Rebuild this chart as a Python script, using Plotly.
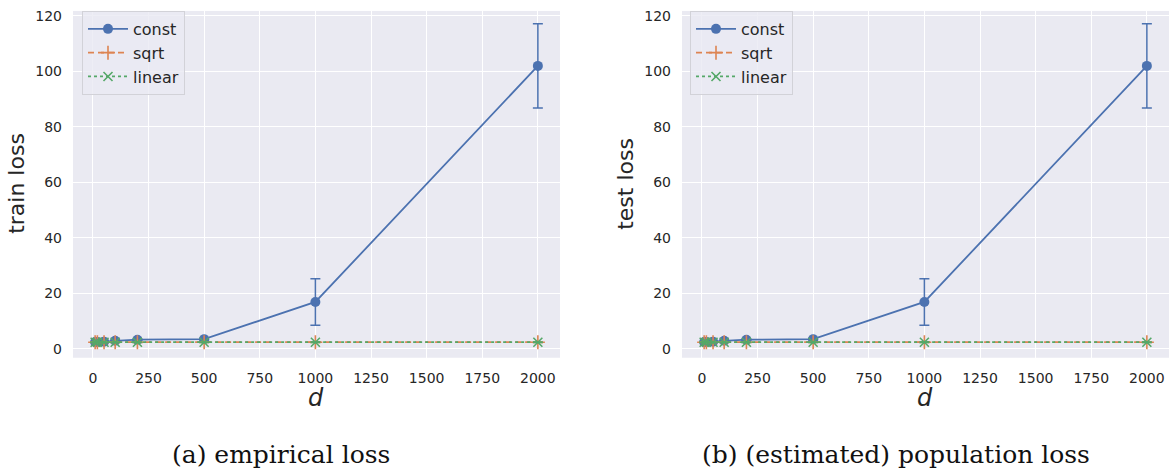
import plotly.graph_objects as go

d_values = [10, 20, 50, 100, 200, 500, 1000, 2000]

train_const = [2.5, 2.5, 2.6, 2.9, 3.3, 3.5, 16.9, 102.0]
train_const_err = [0.1, 0.1, 0.1, 0.2, 0.2, 0.3, 8.4, 15.2]
train_sqrt = [2.4, 2.4, 2.4, 2.4, 2.4, 2.4, 2.4, 2.4]
train_sqrt_err = [0.1, 0.1, 0.1, 0.1, 0.1, 0.1, 0.1, 0.1]
train_linear = [2.4, 2.4, 2.4, 2.4, 2.4, 2.4, 2.4, 2.4]
train_linear_err = [0.1, 0.1, 0.1, 0.1, 0.1, 0.1, 0.1, 0.1]

test_const = [2.5, 2.5, 2.6, 2.9, 3.3, 3.5, 16.9, 102.0]
test_const_err = [0.1, 0.1, 0.1, 0.2, 0.2, 0.3, 8.4, 15.2]
test_sqrt = [2.4, 2.4, 2.4, 2.4, 2.4, 2.4, 2.4, 2.4]
test_sqrt_err = [0.1, 0.1, 0.1, 0.1, 0.1, 0.1, 0.1, 0.1]
test_linear = [2.4, 2.4, 2.4, 2.4, 2.4, 2.4, 2.4, 2.4]
test_linear_err = [0.1, 0.1, 0.1, 0.1, 0.1, 0.1, 0.1, 0.1]

series_names = ["const", "sqrt", "linear"]
x_ticks = [0, 250, 500, 750, 1000, 1250, 1500, 1750, 2000]
y_ticks = [0, 20, 40, 60, 80, 100, 120]
y_titles = ["train loss", "test loss"]
captions = ["(a) empirical loss", "(b) (estimated) population loss"]

BLUE = "#4C72B0"
ORANGE = "#DD8452"
GREEN = "#55A868"
W, H = 1169, 472

fig = go.Figure()

styles = [
    dict(color=BLUE, dash="solid", symbol="circle", size=10, mline=0),
    dict(color=ORANGE, dash="6px,4px", symbol="cross-thin", size=10, mline=1.6),
    dict(color=GREEN, dash="dot", symbol="x-thin", size=9, mline=1.6),
]

panels = [
    ([train_const, train_sqrt, train_linear],
     [train_const_err, train_sqrt_err, train_linear_err], "x", "y", "legend"),
    ([test_const, test_sqrt, test_linear],
     [test_const_err, test_sqrt_err, test_linear_err], "x2", "y2", "legend2"),
]

for ys, errs, xa, ya, leg in panels:
    for name, yv, ev, st in zip(series_names, ys, errs, styles):
        fig.add_trace(go.Scatter(
            x=d_values, y=yv, name=name, mode="lines+markers",
            xaxis=xa, yaxis=ya, legend=leg,
            line=dict(color=st["color"], dash=st["dash"], width=1.8),
            marker=dict(symbol=st["symbol"], size=st["size"], color=st["color"],
                        line=dict(width=st["mline"], color=st["color"])),
            error_y=dict(type="data", array=ev, visible=True, color=st["color"],
                         thickness=1.5, width=5),
        ))

tick_font = dict(family="DejaVu Sans", size=14, color="#262626")
y0, y1 = 1 - 357 / H, 1 - 8 / H

axis_common = dict(
    range=[-89.5, 2099.5], tickvals=x_ticks, showgrid=True, gridcolor="white",
    gridwidth=1.2, zeroline=False, showline=False, ticks="", tickfont=tick_font,
    ticklabelstandoff=10,
)
yaxis_common = dict(
    range=[-3.2, 121.8], tickvals=y_ticks, showgrid=True, gridcolor="white",
    gridwidth=1.2, zeroline=False, showline=False, ticks="", tickfont=tick_font,
    ticklabelstandoff=10, domain=[y0, y1],
)

legend_common = dict(
    bgcolor="rgba(234,234,242,0.8)", bordercolor="#d2d2d8", borderwidth=1,
    font=dict(family="DejaVu Sans", size=16, color="#262626"),
    xanchor="left", yanchor="top", itemwidth=40, tracegroupgap=0,
)

fig.update_layout(
    width=W, height=H, margin=dict(l=0, r=0, t=0, b=0),
    paper_bgcolor="white", plot_bgcolor="#EAEAF2",
    xaxis=dict(domain=[73 / W, 560 / W], anchor="y", **axis_common),
    xaxis2=dict(domain=[682 / W, 1169 / W], anchor="y2", **axis_common),
    yaxis=dict(anchor="x", **yaxis_common),
    yaxis2=dict(anchor="x2", **yaxis_common),
    legend=dict(x=82 / W, y=1 - 8 / H, **legend_common),
    legend2=dict(x=690 / W, y=1 - 8 / H, **legend_common),
    showlegend=True,
)

annotations = []
for cx, txt in zip([17, 626], y_titles):
    annotations.append(dict(
        x=cx / W, y=1 - 182 / H, xref="paper", yref="paper", text=txt,
        showarrow=False, textangle=-90, xanchor="center", yanchor="middle",
        font=dict(family="DejaVu Sans", size=22, color="#262626")))
for cx in [316, 925]:
    annotations.append(dict(
        x=cx / W, y=1 - 398 / H, xref="paper", yref="paper", text="<i>d</i>",
        showarrow=False, xanchor="center", yanchor="middle",
        font=dict(family="DejaVu Sans", size=24, color="#262626")))
for cx, txt in zip([281, 896], captions):
    annotations.append(dict(
        x=cx / W, y=1 - 454 / H, xref="paper", yref="paper", text=txt,
        showarrow=False, xanchor="center", yanchor="middle",
        font=dict(family="DejaVu Serif", size=25, color="#111111")))
fig.update_layout(annotations=annotations)

fig.write_html(
    "out.html",
    config={"displayModeBar": False},
    post_script="document.body.style.margin='0';document.body.style.overflow='hidden';",
)
